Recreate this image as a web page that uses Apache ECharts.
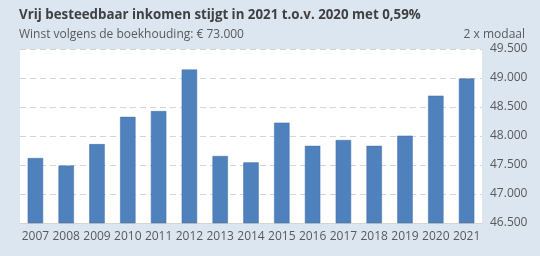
<!DOCTYPE html>
<html><head><meta charset="utf-8">
<script src="https://cdn.jsdelivr.net/npm/echarts@6/dist/echarts.min.js"></script>
<style>html,body{margin:0;padding:0;background:#dce6f1;}#c{width:540px;height:256px;}</style>
</head><body><div id="c"></div>
<script>
const categories = ['2007','2008','2009','2010','2011','2012','2013','2014','2015','2016','2017','2018','2019','2020','2021'];
const values = [47620, 47490, 47860, 48330, 48430, 49145, 47655, 47545, 48230, 47830, 47930, 47830, 48005, 48695, 48990];
const titleText = 'Vrij besteedbaar inkomen stijgt in 2021 t.o.v. 2020 met 0,59%';
const subtitleText = 'Winst volgens de boekhouding: € 73.000';
const rightNote = '2 x modaal';

const chart = echarts.init(document.getElementById('c'), null, {renderer:'canvas'});
chart.setOption({
  backgroundColor: '#dce6f1',
  animation: false,
  title: [
    {text: titleText, left: 14, top: 4, textStyle: {fontFamily: 'Open Sans', fontWeight: 'bold', fontSize: 13.3, color: '#404040'}},
    {text: subtitleText, left: 14, top: 24, textStyle: {fontFamily: 'Open Sans', fontWeight: 'normal', fontSize: 12, color: '#595959'}},
    {text: rightNote, right: 10, top: 24, textStyle: {fontFamily: 'Open Sans', fontWeight: 'normal', fontSize: 12, color: '#595959'}}
  ],
  grid: {left: 20, right: 58, top: 49, bottom: 33, show: true, backgroundColor: '#ffffff', borderWidth: 0},
  xAxis: {
    type: 'category', data: categories,
    axisLine: {show: true, lineStyle: {color: '#d9d4c8', width: 1}},
    axisTick: {show: false},
    axisLabel: {fontFamily: 'Open Sans', fontSize: 12, color: '#595959', margin: 8, interval: 0}
  },
  yAxis: {
    type: 'value', position: 'right', min: 46500, max: 49500, interval: 500,
    axisLine: {show: false}, axisTick: {show: false},
    axisLabel: {fontFamily: 'Open Sans', fontSize: 12, color: '#595959', margin: 8,
      formatter: v => (v/1000).toFixed(3)},
    splitLine: {lineStyle: {color: '#d4d4d4', type: [6, 4], width: 1}}
  },
  series: [{
    type: 'bar', data: values, barWidth: '50%',
    itemStyle: {color: '#4f81bd', borderColor: '#3f6fa8', borderWidth: 0.5}
  }]
});
</script></body></html>
